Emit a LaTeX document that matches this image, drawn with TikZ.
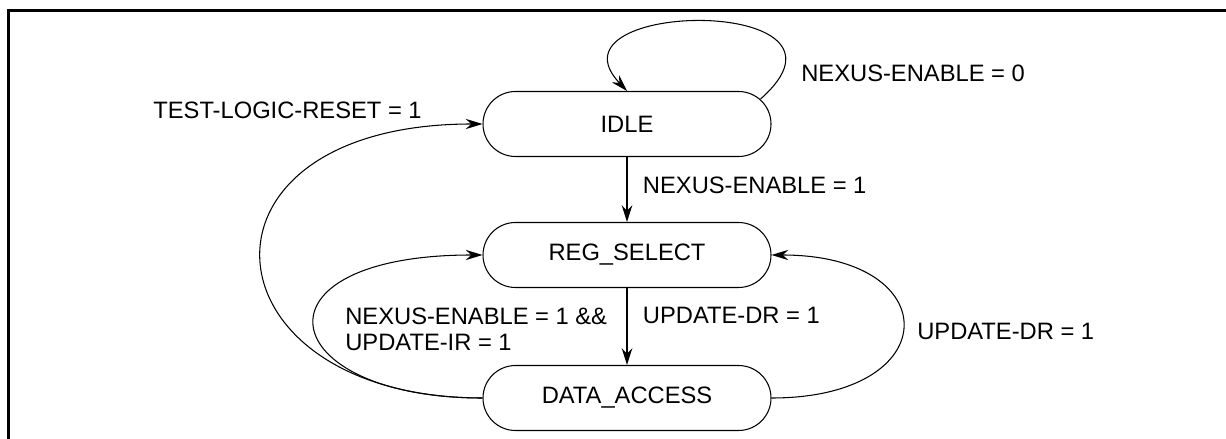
\documentclass[tikz,border=0pt]{standalone}
\usepackage{fontspec}
\setmainfont{Liberation Sans}
\usetikzlibrary{arrows.meta,positioning}
\tikzset{statebox/.style={draw,line width=0.6pt,rounded corners=0.65cm,minimum width=5.76cm,minimum height=1.3cm,inner sep=0pt},
 trans/.style={-{Stealth[length=9.5pt,width=5.8pt]},line width=0.6pt},
 mainstep/.style={-{Stealth[length=9.5pt,width=6pt]},line width=1.1pt},
 lbl/.style={inner sep=0pt,align=left},
 every node/.style={font=\fontsize{13.5}{14.8}\selectfont}}

\begin{document}
\begin{tikzpicture}
\useasboundingbox (0,0) rectangle (24.52,8.78);
\draw[line width=1.5pt] (24.52,8.566) -| (0.174,0);
\node[statebox] (idle) at (12.54,6.3) {IDLE};
\node[statebox] (reg) at (12.54,3.68) {REG\_SELECT};
\node[statebox] (data) at (12.54,0.82) {DATA\_ACCESS};
\draw[mainstep] (idle) -- (reg) node[lbl,midway,right=0.3cm,yshift=0.08cm] {NEXUS-ENABLE = 1};
\draw[mainstep] (reg) -- (data) node[lbl,midway,right=0.3cm,yshift=0.22cm] {UPDATE-DR = 1};
\draw[trans] ([xshift=-0.22cm,yshift=0.5cm]idle.east) .. controls +(2.36,2.08) and +(-1.74,1.84) .. (idle.north);
\draw[trans] (data.east) .. controls +(3.5,0) and +(3.5,0) .. (reg.east) node[lbl,pos=0.5,right=0.28cm,yshift=-0.1cm] {UPDATE-DR = 1};
\draw[trans] (data.west) .. controls +(-4.2,0) and +(-4.76,0) .. (reg.west);
\draw[trans] (data.west) .. controls +(-5.66,0) and +(-6.14,0) .. (idle.west);
\node[lbl,anchor=west] (irlbl) at (6.9,2.2) {NEXUS-ENABLE = 1 \&\&\\UPDATE-IR = 1};
\node[lbl,anchor=east] (resetlbl) at (8.44,6.58) {TEST-LOGIC-RESET = 1};
\node[lbl,anchor=west] (zerolbl) at (16.02,7.32) {NEXUS-ENABLE = 0};
\end{tikzpicture}
\end{document}
